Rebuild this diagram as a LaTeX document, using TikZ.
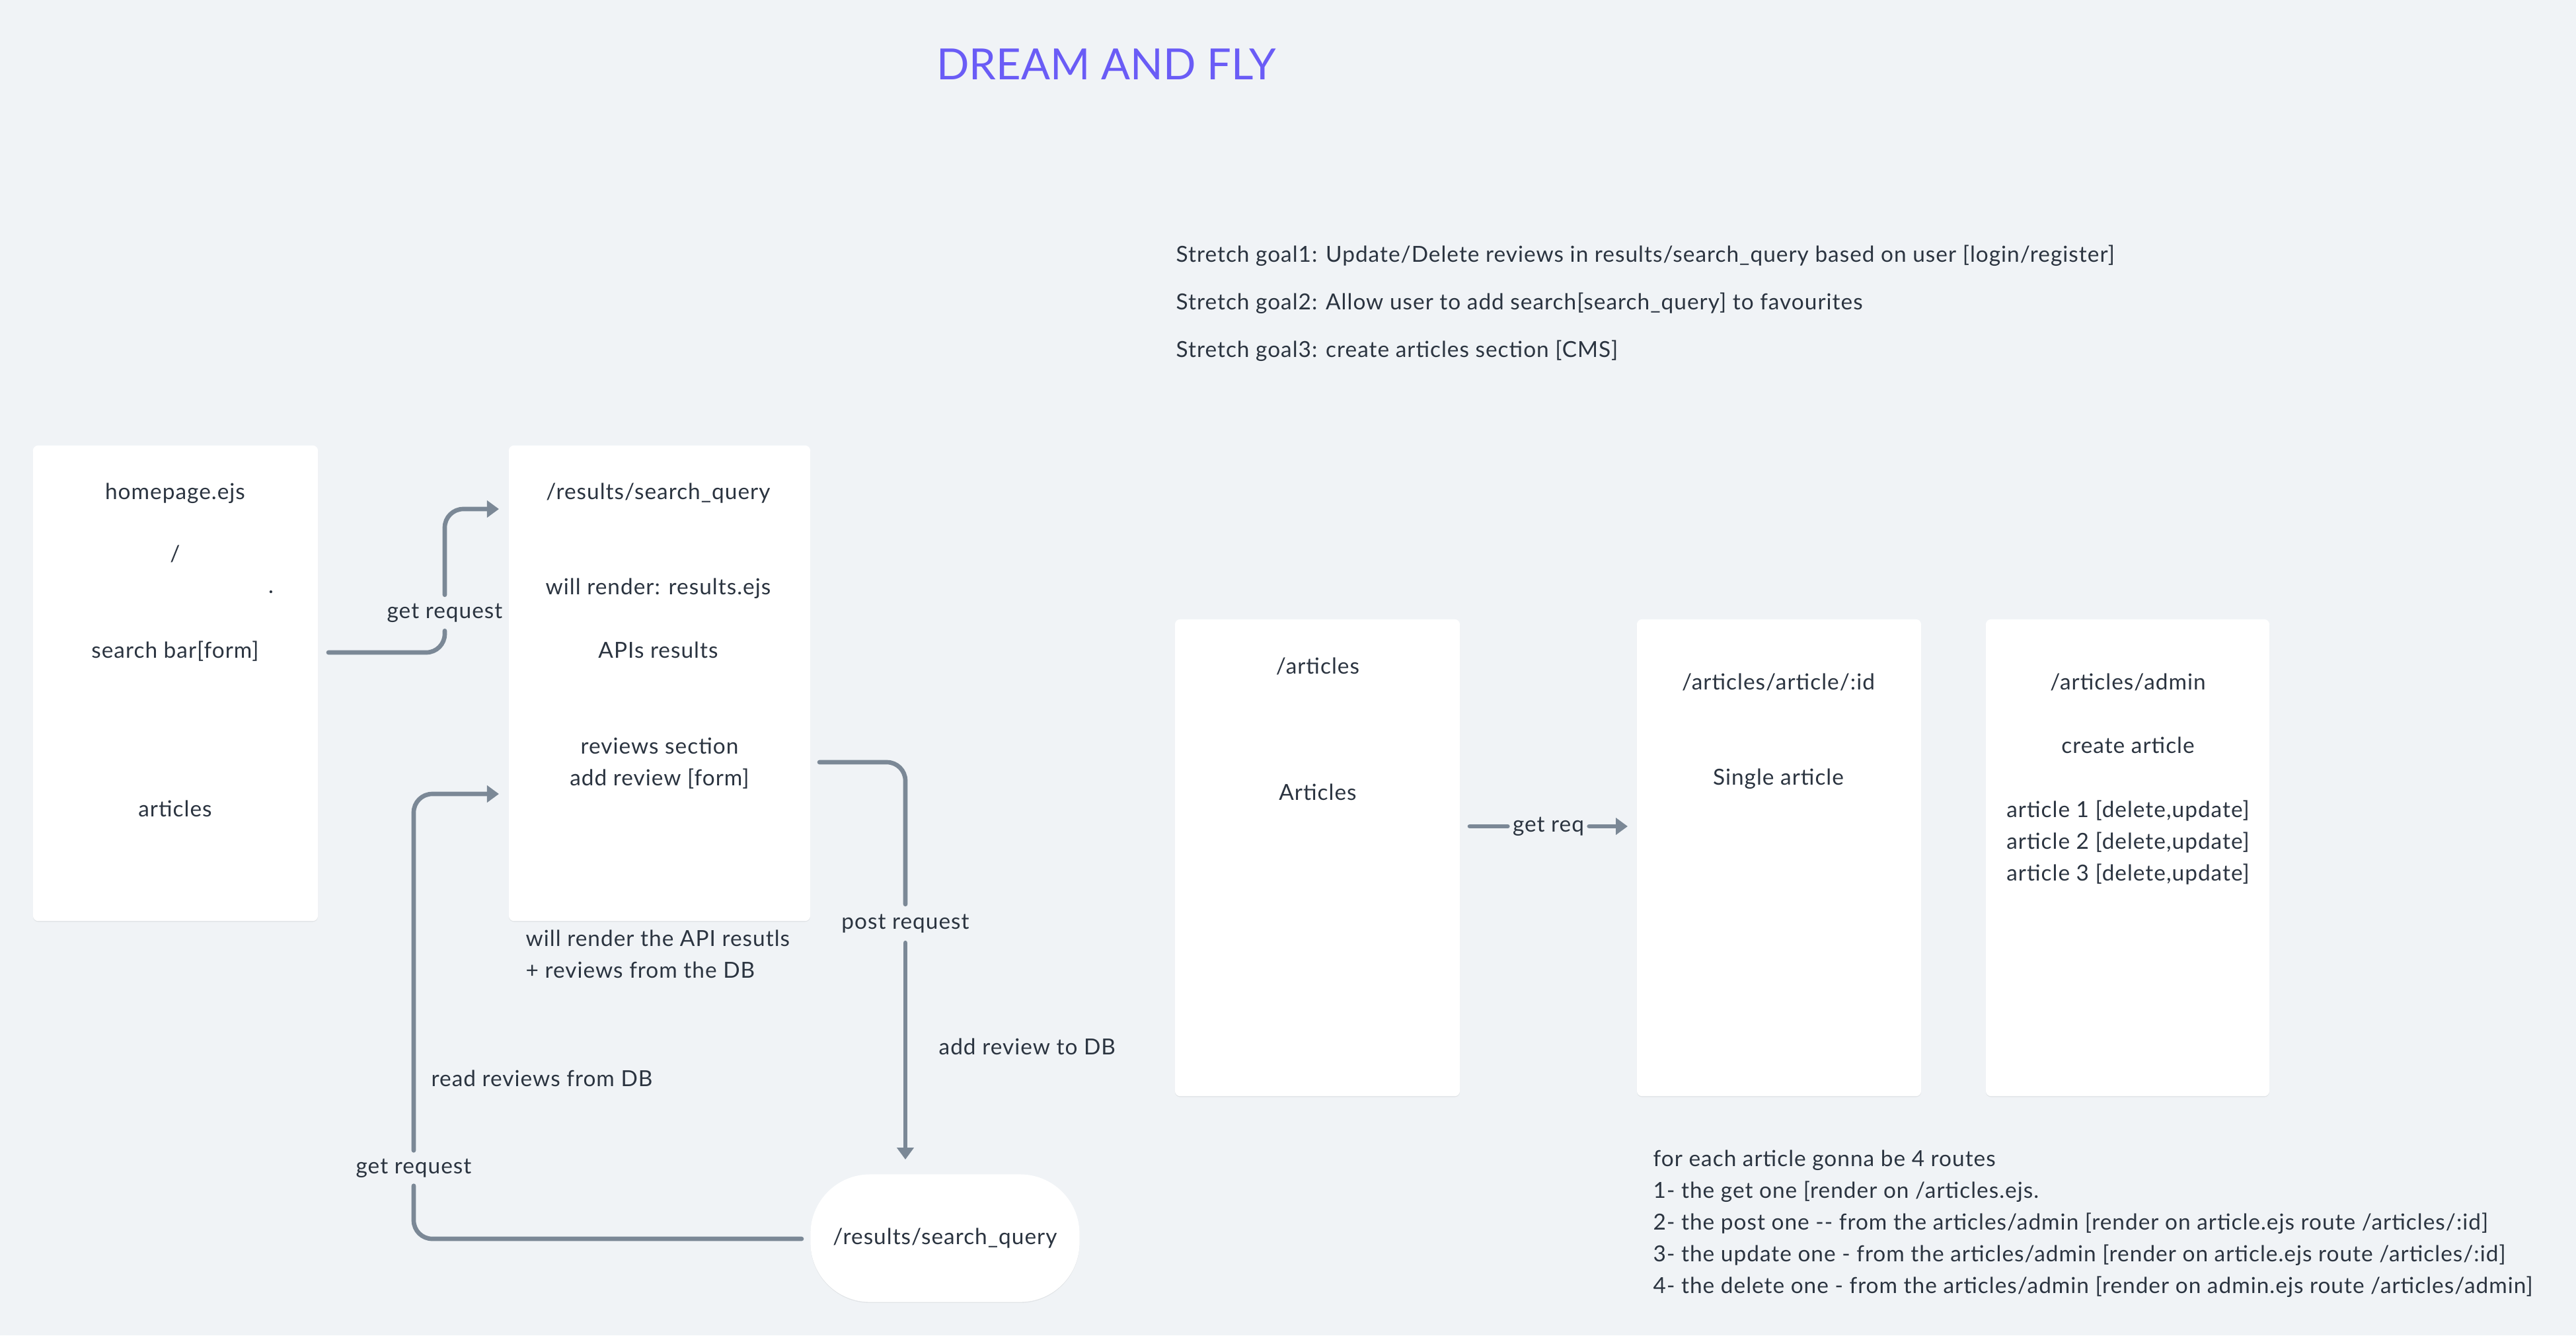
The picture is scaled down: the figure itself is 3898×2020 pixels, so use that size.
\documentclass[tikz,border=0pt]{standalone}
\usepackage{fontspec}
\setmainfont{Lato}[LetterSpace=3]
\newfontfamily\titlefont{Lato}
\usetikzlibrary{arrows.meta,shadows,calc}
\definecolor{bgc}{HTML}{F0F3F6}
\definecolor{linec}{HTML}{7B8896}
\definecolor{txt}{HTML}{2B3440}
\definecolor{titlec}{HTML}{6A5CF6}
\tikzset{
  every node/.style={text=txt, font=\fontsize{9.5}{13.66}\selectfont},
  txtn/.style={inner sep=0pt, text height=0.24cm, text depth=0.07cm},
  multi/.style={inner sep=0pt, align=center},
  pagebox/.style={fill=white, rounded corners=0.08cm, inner sep=0pt,
    drop shadow={shadow xshift=0pt, shadow yshift=-0.4pt, opacity=0.06, fill=black}},
  conn/.style={draw=linec, line width=1.9pt, line cap=round, rounded corners=0.28cm},
  arr/.style={conn, -{Triangle[width=0.25cm,length=0.18cm]}},
  gaplbl/.style={txtn, minimum height=0.53cm},
}
\begin{document}
\begin{tikzpicture}[x=0.01cm, y=-0.01cm]
\fill[bgc] (0,0) rectangle (3898,2020);
\useasboundingbox (0,0) rectangle (3898,2020);

% title
\node[font=\titlefont\fontsize{18.5}{23}\selectfont, text=titlec] (title) at (1674,97) {DREAM AND FLY};

% stretch goals
\node[anchor=west, align=left, inner sep=0pt, font=\fontsize{9.5}{20.5}\selectfont] (goals) at (1779,459)
  {Stretch goal1: Update/Delete reviews in results/search\_query based on user [login/register]\\
   Stretch goal2: Allow user to add search[search\_query] to favourites\\
   Stretch goal3: create articles section [CMS]};

% box A
\node[pagebox, minimum width=4.31cm, minimum height=7.19cm] (A) at (265.5,1033.5) {};
\node[txtn] (a1) at (265,747) {homepage.ejs};
\node[txtn] (a2) at (265,841) {/};
\node[txtn] (a3) at (410,889) {.};
\node[txtn] (a4) at (265,987) {search bar[form]};
\node[txtn] (a5) at (265,1227) {articles};

% box B
\node[pagebox, minimum width=4.56cm, minimum height=7.19cm] (B) at (998,1033.5) {};
\node[txtn] (b1) at (996,747) {/results/search\_query};
\node[txtn] (b2) at (996,891) {will render: results.ejs};
\node[txtn] (b3) at (996,987) {APIs results};
\node[multi] (b4) at (998,1155) {reviews section\\add review [form]};
\node[anchor=west, align=left, inner sep=0pt] (bnote) at (795,1443)
  {will render the API resutls\\+ reviews from the DB};

% stadium
\node[pagebox, rounded corners=0.9cm, minimum width=4.07cm, minimum height=1.93cm] (S) at (1430,1873) {/results/search\_query};

% arrow 1
\coordinate (p1s) at (497,987);
\coordinate (p1e) at (755,770);
\node[gaplbl] (gr1) at (673,927) {get request};
\draw[conn] (p1s) -| (gr1.south);
\draw[arr] (gr1.north) |- (p1e);

% arrow 2
\coordinate (p2s) at (1240,1153);
\coordinate (p2e) at (1370,1754);
\node[gaplbl, minimum height=0.57cm] (pr) at (1370,1397) {post request};
\draw[conn] (p2s) -| (pr.north);
\draw[arr] (pr.south) -- (p2e);
\node[txtn, anchor=west] (addrev) at (1420,1587) {add review to DB};

% arrow 3
\coordinate (p3s) at (1213,1874);
\coordinate (p3e) at (755,1201);
\node[gaplbl, minimum height=0.52cm] (gr2) at (626,1767) {get request};
\draw[conn] (p3s) -| (gr2.south);
\draw[arr] (gr2.north) |- (p3e);
\node[txtn, anchor=west] (readrev) at (652,1635) {read reviews from DB};

% box C
\node[pagebox, minimum width=4.31cm, minimum height=7.21cm] (C) at (1993.5,1297.5) {};
\node[txtn] (c1) at (1994,1011) {/articles};
\node[txtn] (c2) at (1994,1202) {Articles};

% box D
\node[pagebox, minimum width=4.30cm, minimum height=7.21cm] (D) at (2692,1297.5) {};
\node[txtn] (d1) at (2691,1035) {/articles/article/:id};
\node[txtn] (d2) at (2691,1179) {Single article};

% box E
\node[pagebox, minimum width=4.29cm, minimum height=7.21cm] (E) at (3219.5,1297.5) {};
\node[txtn] (e1) at (3220,1035) {/articles/admin};
\node[txtn] (e2) at (3220,1131) {create article};
\node[multi] (e3) at (3220,1275) {article 1 [delete,update]\\article 2 [delete,update]\\article 3 [delete,update]};

% arrow 4
\coordinate (p4s) at (2224,1250);
\coordinate (p4e) at (2463,1250);
\node[txtn, inner xsep=0.07cm] (gq) at (2343,1250) {get req};
\draw[conn] (p4s) -- (gq.west);
\draw[arr] (gq.east) -- (p4e);

% notes
\node[anchor=west, align=left, inner sep=0pt] (notes) at (2501,1851)
  {for each article gonna be 4 routes\\
   1- the get one [render on /articles.ejs.\\
   2- the post one {-}{-} from the articles/admin [render on article.ejs route /articles/:id]\\
   3- the update one - from the articles/admin [render on article.ejs route /articles/:id]\\
   4- the delete one - from the articles/admin [render on admin.ejs route /articles/admin]};
\end{tikzpicture}
\end{document}
